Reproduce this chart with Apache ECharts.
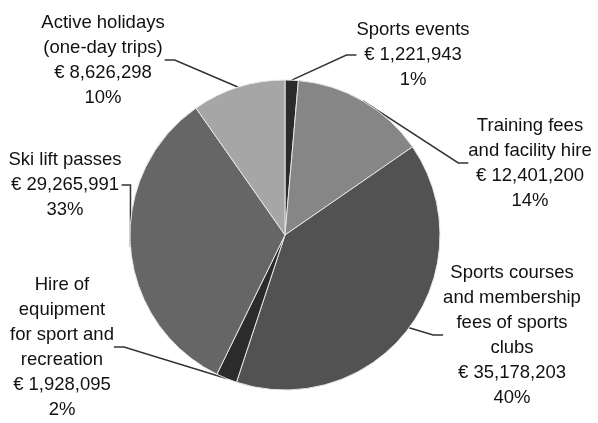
<!DOCTYPE html>
<html>
<head>
<meta charset="utf-8">
<script src="https://cdn.jsdelivr.net/npm/echarts@6/dist/echarts.min.js"></script>
<style>
  html, body { margin: 0; padding: 0; background: #fff; }
  #chart { width: 598px; height: 423px; }
</style>
</head>
<body>
<div id="chart"></div>
<script>
// categories (clockwise from 12 o'clock)
const categories = [
  'Sports events',
  'Training fees\nand facility hire',
  'Sports courses\nand membership\nfees of sports\nclubs',
  'Hire of\nequipment\nfor sport and\nrecreation',
  'Ski lift passes',
  'Active holidays\n(one-day trips)'
];
const amounts = [1221943, 12401200, 35178203, 1928095, 29265991, 8626298];
const amountLabels = ['€ 1,221,943', '€ 12,401,200', '€ 35,178,203', '€ 1,928,095', '€ 29,265,991', '€ 8,626,298'];
const percentLabels = ['1%', '14%', '40%', '2%', '33%', '10%'];

const sliceColors = ['#2b2b2b', '#868686', '#525252', '#2b2b2b', '#666666', '#a6a6a6'];
// where each label block is centered
const labelSpots = [[413, 55], [530, 163], [512, 335], [62, 347], [65, 185], [103, 60]];

const chart = echarts.init(document.getElementById('chart'));

const data = categories.map((name, i) => ({
  name: name,
  value: amounts[i],
  itemStyle: { color: sliceColors[i] }
}));

chart.setOption({
  animation: false,
  series: [{
    type: 'pie',
    center: [285, 235],
    radius: [0, 155],
    startAngle: 90,
    clockwise: true,
    data: data,
    itemStyle: { borderColor: '#e6e6e6', borderWidth: 1 },
    label: {
      show: true,
      position: 'outside',
      formatter: (p) => p.name + '\n' + amountLabels[p.dataIndex] + '\n' + percentLabels[p.dataIndex],
      fontFamily: 'Liberation Sans',
      fontSize: 18.5,
      lineHeight: 25,
      color: '#111',
      align: 'center',
      overflow: 'none'
    },
    labelLine: {
      show: true,
      length: 20,
      length2: 10,
      lineStyle: { color: '#333', width: 1.5 }
    },
    labelLayout: (params) => {
      const s = labelSpots[params.dataIndex];
      return { x: s[0], y: s[1], align: 'center', verticalAlign: 'middle' };
    }
  }]
});
</script>
</body>
</html>
